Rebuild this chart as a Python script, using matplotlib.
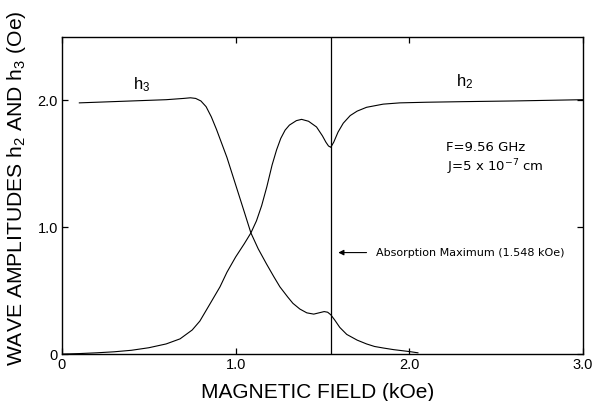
import matplotlib.pyplot as plt

plt.rcParams['font.family'] = ['Liberation Sans', 'DejaVu Sans']
plt.rcParams['mathtext.default'] = 'regular'

# field values (kOe) and amplitudes (Oe)
field_h2 = [0.0, 0.1, 0.2, 0.3, 0.4, 0.5, 0.6, 0.68, 0.75, 0.794, 0.85, 0.91, 0.95,
            1.0, 1.05, 1.088, 1.12, 1.15, 1.18, 1.21, 1.236, 1.26, 1.285, 1.31, 1.35,
            1.38, 1.42, 1.466, 1.5, 1.52, 1.535, 1.548, 1.565, 1.59, 1.62, 1.66, 1.7,
            1.754, 1.85, 1.946, 2.1, 2.33, 2.6, 2.8, 3.0]
amp_h2 = [0.0, 0.004, 0.01, 0.018, 0.03, 0.05, 0.08, 0.12, 0.19, 0.26, 0.39, 0.53, 0.645,
          0.765, 0.87, 0.955, 1.05, 1.17, 1.32, 1.49, 1.61, 1.70, 1.765, 1.805, 1.84,
          1.85, 1.835, 1.79, 1.72, 1.67, 1.64, 1.63, 1.67, 1.75, 1.82, 1.88, 1.915,
          1.945, 1.97, 1.98, 1.985, 1.99, 1.995, 2.0, 2.005]

field_h3 = [0.1, 0.2, 0.3, 0.4, 0.5, 0.6, 0.7, 0.74, 0.77, 0.8, 0.83, 0.86, 0.89,
            0.92, 0.95, 1.0, 1.05, 1.088, 1.13, 1.178, 1.22, 1.255, 1.3, 1.33, 1.37,
            1.41, 1.45, 1.48, 1.51, 1.53, 1.548, 1.57, 1.6, 1.64, 1.7, 1.754, 1.8,
            1.85, 1.91, 2.0, 2.05]
amp_h3 = [1.98, 1.985, 1.99, 1.995, 2.0, 2.005, 2.015, 2.02, 2.015, 1.995, 1.95, 1.87,
          1.77, 1.66, 1.55, 1.335, 1.12, 0.955, 0.83, 0.71, 0.61, 0.53, 0.45, 0.40,
          0.355, 0.325, 0.315, 0.325, 0.335, 0.33, 0.31, 0.27, 0.21, 0.155, 0.11,
          0.08, 0.06, 0.048, 0.035, 0.02, 0.01]

absorption_max = 1.548

fig = plt.figure(figsize=(5.96, 4.01), dpi=100)
ax = fig.add_axes([0.104, 0.117, 0.874, 0.791])

ax.plot(field_h2, amp_h2, color='black', lw=0.8)
ax.plot(field_h3, amp_h3, color='black', lw=0.8)
ax.axvline(absorption_max, color='black', lw=0.9)

ax.set_xlim(0, 3.0)
ax.set_ylim(0, 2.5)
ax.set_xticks([0, 1.0, 2.0, 3.0])
ax.set_xticklabels(['0', '1.0', '2.0', '3.0'])
ax.set_yticks([0, 1.0, 2.0])
ax.set_yticklabels(['0', '1.0', '2.0'])
ax.tick_params(direction='in', length=4, width=0.9, labelsize=10.5, pad=3,
               top=True, right=True)
for s in ax.spines.values():
    s.set_linewidth(1.0)

ax.set_xlabel('MAGNETIC FIELD (kOe)', fontsize=15)
ax.xaxis.set_label_coords(0.49, -0.09)
ax.set_ylabel('WAVE AMPLITUDES h$_2$ AND h$_3$ (Oe)', fontsize=15.2)
ax.yaxis.set_label_coords(-0.066, 0.522)

ax.text(0.41, 2.05, 'h$_3$', fontsize=12, ha='left', va='bottom')
ax.text(2.27, 2.07, 'h$_2$', fontsize=12, ha='left', va='bottom')

# parameter block and absorption marker, wider face
note = ['DejaVu Sans']
ax.text(2.21, 1.63, 'F=9.56 GHz', fontsize=9.5, va='center', family=note)
ax.text(2.22, 1.47, 'J=5 x 10$^{-7}$ cm', fontsize=9.5, va='center', family=note)

ax.annotate('', xy=(1.575, 0.80), xytext=(1.77, 0.80),
            arrowprops=dict(arrowstyle='-|>', color='black', lw=0.8,
                            mutation_scale=8))
ax.text(1.81, 0.80, 'Absorption Maximum (1.548 kOe)', fontsize=8, va='center',
        family=note)

fig.savefig('out.png', dpi=100)
